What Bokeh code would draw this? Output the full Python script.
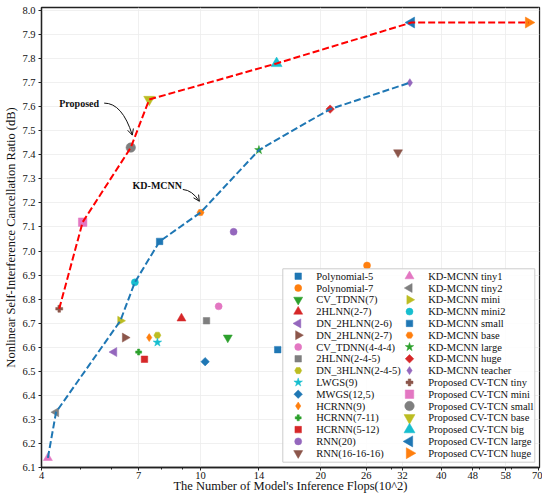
import math
from bokeh.plotting import figure
from bokeh.models import (Range1d, FixedTicker, Arrow, OpenHead, LinearScale,
                          PrintfTickFormatter, ColumnDataSource)
from bokeh.core.properties import value
from bokeh.embed import file_html
from bokeh.resources import INLINE

# ---------------- data ----------------
baseline_names = ["Polynomial-5", "Polynomial-7", "CV_TDNN(7)", "2HLNN(2-7)", "DN_2HLNN(2-6)",
                  "DN_2HLNN(2-7)", "CV_TDNN(4-4-4)", "2HLNN(2-4-5)", "DN_3HLNN(2-4-5)", "LWGS(9)",
                  "MWGS(12,5)", "HCRNN(9)", "HCRNN(7-11)", "HCRNN(5-12)", "RNN(20)", "RNN(16-16-16)"]
baseline_flops = [15.6, 26.1, 11.7, 8.96, 6.08, 6.47, 11.1, 10.35, 7.8, 7.8,
                  10.27, 7.44, 7.0, 7.24, 12.1, 31.2]
baseline_ncr = [6.59, 6.94, 6.64, 6.72, 6.58, 6.64, 6.77, 6.71, 6.65, 6.62,
                6.54, 6.64, 6.58, 6.55, 7.08, 7.41]

kd_names = ["KD-MCNN tiny1", "KD-MCNN tiny2", "KD-MCNN mini", "KD-MCNN mini2", "KD-MCNN small",
            "KD-MCNN base", "KD-MCNN large", "KD-MCNN huge", "KD-MCNN teacher"]
kd_flops = [4.15, 4.35, 6.30, 6.85, 7.90, 10.0, 14.0, 21.1, 33.4]
kd_ncr = [6.14, 6.33, 6.71, 6.87, 7.04, 7.16, 7.42, 7.59, 7.70]

prop_names = ["Proposed CV-TCN tiny", "Proposed CV-TCN mini", "Proposed CV-TCN small",
              "Proposed CV-TCN base", "Proposed CV-TCN big", "Proposed CV-TCN large",
              "Proposed CV-TCN huge"]
prop_flops = [4.43, 5.07, 6.69, 7.44, 15.5, 33.7, 66.2]
prop_ncr = [6.76, 7.12, 7.43, 7.63, 7.78, 7.95, 7.95]

x_ticks = [4, 7, 10, 14, 20, 26, 32, 40, 48, 58, 70]
x_minor_ticks = [5, 6, 8, 9, 30, 50, 60]
y_ticks = [round(6.1 + 0.1 * i, 1) for i in range(20)]

x_title = "The Number of Model's Inference Flops(10^2)"
y_title = "Nonlinear Self-Interference Cancellation Ratio (dB)"

palette = ["#1f77b4", "#ff7f0e", "#2ca02c", "#d62728", "#9467bd",
           "#8c564b", "#e377c2", "#7f7f7f", "#bcbd22", "#17becf"]
baseline_markers = ["s", "o", "v", "^", "<", ">", "o", "s", "p", "*", "D", "d", "P", "s", "o", "v"]
kd_markers = ["^", "<", ">", "o", "s", "p", "*", "D", "d"]
prop_markers = ["P", "s", "o", "v", "^", "<", ">"]

# annotation anchors (x in flops, y in dB)
proposed_label = (4.43, 7.615)
proposed_curve = [(5.74, 7.615), (6.37, 7.615), (6.75, 7.482)]
kd_label = (6.76, 7.274)
kd_curve = [(9.03, 7.256), (9.53, 7.253), (9.93, 7.207)]

# -------------- marker mapping: (bokeh marker, angle, small size, big size) --------------
MK = {
    "s": ("square", 0.0, 6.5, 8.5),
    "o": ("circle", 0.0, 7, 9.5),
    "v": ("inverted_triangle", 0.0, 9, 11),
    "^": ("triangle", 0.0, 9, 11),
    "<": ("triangle", math.pi / 2, 9, 11),
    ">": ("triangle", -math.pi / 2, 9, 11),
    "p": ("hex", 0.0, 7, 9),
    "*": ("star", 0.0, 9, 11),
    "D": ("square", math.pi / 4, 6, 8),
    "d": ("diamond", 0.0, 8, 10),
    "P": ("plus", 0.0, 6, 7),
}

FONT = "Liberation Serif"

W, H = 542, 496
BL, BR, BT, BB = 41, 3, 7, 29
FRAME_W = W - BL - BR
FRAME_H = H - BT - BB

p = figure(width=W, height=H, x_axis_type="log",
           x_range=Range1d(4, 70.5), y_range=Range1d(6.1, 8.0125),
           output_backend="svg", toolbar_location=None,
           min_border_left=BL, min_border_right=BR, min_border_top=BT, min_border_bottom=BB)
p.extra_x_ranges = {"px": Range1d(0, FRAME_W)}
p.extra_y_ranges = {"py": Range1d(0, FRAME_H)}
p.extra_x_scales = {"px": LinearScale()}
p.extra_y_scales = {"py": LinearScale()}

p.outline_line_color = "#222222"
p.outline_line_width = 1.3
p.background_fill_color = "white"
p.border_fill_color = "white"

p.xaxis.ticker = FixedTicker(ticks=x_ticks, minor_ticks=x_minor_ticks)
p.yaxis.ticker = FixedTicker(ticks=y_ticks)
p.xaxis.formatter = PrintfTickFormatter(format="%d")
p.yaxis.formatter = PrintfTickFormatter(format="%.1f")

for ax in (p.xaxis, p.yaxis):
    ax.axis_line_color = "#222222"
    ax.axis_line_width = 1.3
    ax.major_tick_line_color = "#222222"
    ax.major_tick_in = 0
    ax.major_tick_out = 3
    ax.minor_tick_in = 0
    ax.minor_tick_out = 2
    ax.minor_tick_line_color = "#222222"
    ax.major_label_text_font = FONT
    ax.major_label_text_font_size = "10.5px"
    ax.major_label_text_color = "#111111"
    ax.axis_label_text_font = FONT
    ax.axis_label_text_font_size = "12.5px"
    ax.axis_label_text_font_style = "normal"
    ax.axis_label_text_color = "#111111"
p.xaxis.major_label_standoff = 1
p.xaxis.axis_label_standoff = -3
p.yaxis.major_label_standoff = 3
p.yaxis.axis_label_standoff = 1
p.yaxis.minor_tick_line_color = None
p.xaxis.axis_label = x_title
p.yaxis.axis_label = y_title

p.xgrid.grid_line_color = "#ececec"
p.ygrid.grid_line_color = "#ececec"
p.xgrid.grid_line_width = 0.8
p.ygrid.grid_line_width = 0.8

# -------------- scatter --------------
all_names = baseline_names + kd_names + prop_names
all_x = baseline_flops + kd_flops + prop_flops
all_y = baseline_ncr + kd_ncr + prop_ncr
all_m = baseline_markers + kd_markers + prop_markers
is_big = [False] * (len(baseline_names) + len(kd_names)) + [True] * len(prop_names)
colors = [palette[i % 10] for i in range(len(all_names))]
mk_name = [MK[m][0] for m in all_m]
mk_angle = [MK[m][1] for m in all_m]
mk_size = [MK[m][3] if big else MK[m][2] for m, big in zip(all_m, is_big)]

pts = ColumnDataSource(dict(x=all_x, y=all_y, marker=mk_name, angle=mk_angle,
                            size=mk_size, color=colors))
p.scatter("x", "y", source=pts, marker="marker", angle="angle", size="size",
          fill_color="color", line_color="color", line_width=0.5)

# -------------- dashed fronts --------------
p.line(kd_flops, kd_ncr, line_color="#1f77b4", line_width=2, line_dash="7 3")
p.line(prop_flops, prop_ncr, line_color="#ff0000", line_width=2, line_dash="7 3")

# -------------- annotations --------------
for (lx, ly), txt, curve in ((proposed_label, "Proposed", proposed_curve),
                             (kd_label, "KD-MCNN", kd_curve)):
    p.text([lx], [ly], text=[txt], text_font=value(FONT), text_font_style="bold",
           text_font_size="10px", text_align="left", text_baseline="middle", text_color="#111111")
    (x0, y0), (cx, cy), (x1, y1) = curve
    p.quadratic(x0=[x0], y0=[y0], x1=[x1], y1=[y1], cx=[cx], cy=[cy],
                line_color="#111111", line_width=1)
    p.add_layout(Arrow(x_start=cx, y_start=cy, x_end=x1, y_end=y1, line_alpha=0,
                       end=OpenHead(size=6, line_width=1, line_color="#111111")))

# -------------- legend (two columns, drawn in frame pixels) --------------
LG_LEFT, LG_RIGHT, LG_TOP, LG_BOTTOM = 241.3, 493.3, 198.7, 5.3
ROW0, ROW_STEP, ROWS = 191.3, 11.8, 16
COL_MARK = [256.7, 368.0]
COL_TEXT = [274.7, 386.7]

p.quad(left=[LG_LEFT], right=[LG_RIGHT], top=[LG_TOP], bottom=[LG_BOTTOM],
       x_range_name="px", y_range_name="py",
       fill_color="white", fill_alpha=0.85, line_color="#cccccc", line_width=1)

n = len(all_names)
lg_mx = [COL_MARK[i // ROWS] for i in range(n)]
lg_tx = [COL_TEXT[i // ROWS] for i in range(n)]
lg_y = [ROW0 - ROW_STEP * (i % ROWS) for i in range(n)]
lg = ColumnDataSource(dict(mx=lg_mx, tx=lg_tx, y=lg_y, marker=mk_name, angle=mk_angle,
                           size=mk_size, color=colors, label=all_names))
p.scatter("mx", "y", source=lg, marker="marker", angle="angle", size="size",
          fill_color="color", line_color="color", line_width=0.5,
          x_range_name="px", y_range_name="py")
p.text("tx", "y", text="label", source=lg, x_range_name="px", y_range_name="py",
       text_font=value(FONT), text_font_size="10.5px", text_align="left",
       text_baseline="middle", text_color="#111111")

open("out.html", "w").write(file_html(p, INLINE))
